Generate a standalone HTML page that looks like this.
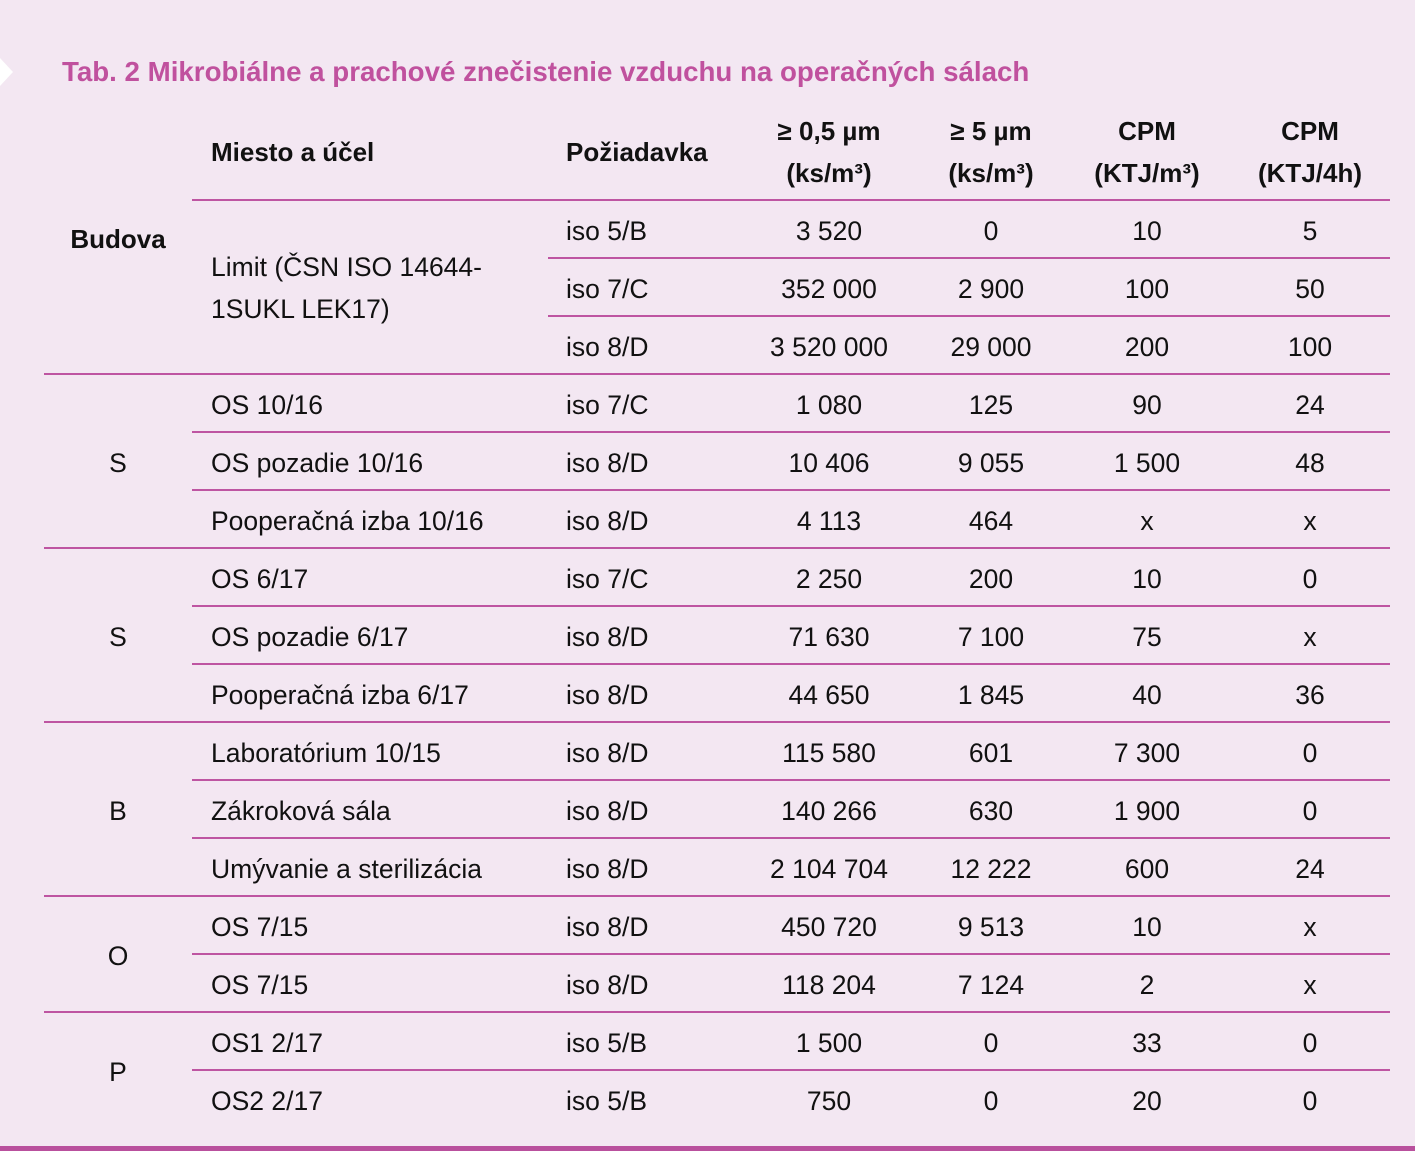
<!DOCTYPE html>
<html><head><meta charset="utf-8">
<style>
body{margin:0;width:1415px;height:1151px;background:#f3e7f2;position:relative;overflow:hidden;font-family:"Liberation Sans",sans-serif;color:#111;}
.t{position:absolute;font-size:26.5px;line-height:30px;white-space:nowrap;}
.c{transform:translateX(-50%);text-align:center;}
.b{font-weight:bold;font-size:26px;}
.l{position:absolute;height:2px;background:#be55a2;}
</style></head><body>
<div style="position:absolute;left:0;top:58px;width:0;height:0;border-top:14px solid transparent;border-bottom:14px solid transparent;border-left:13px solid #fff;"></div>
<div class="t b" style="left:62px;top:57px;font-size:27.7px;color:#c0519e;">Tab. 2 Mikrobiálne a prachové znečistenie vzduchu na operačných sálach</div>

<div class="t b" style="left:211px;top:137px;">Miesto a účel</div>
<div class="t b" style="left:566px;top:137px;">Požiadavka</div>
<div class="t b c" style="left:829px;top:116px;">≥ 0,5 µm</div>
<div class="t b c" style="left:829px;top:158px;">(ks/m³)</div>
<div class="t b c" style="left:991px;top:116px;">≥ 5 µm</div>
<div class="t b c" style="left:991px;top:158px;">(ks/m³)</div>
<div class="t b c" style="left:1147px;top:116px;">CPM</div>
<div class="t b c" style="left:1147px;top:158px;">(KTJ/m³)</div>
<div class="t b c" style="left:1310px;top:116px;">CPM</div>
<div class="t b c" style="left:1310px;top:158px;">(KTJ/4h)</div>

<div class="l" style="left:192px;top:199px;width:1198px;"></div>
<div class="l" style="left:548px;top:257px;width:842px;"></div>
<div class="l" style="left:548px;top:315px;width:842px;"></div>
<div class="l" style="left:44px;top:373px;width:1346px;"></div>
<div class="l" style="left:192px;top:431px;width:1198px;"></div>
<div class="l" style="left:192px;top:489px;width:1198px;"></div>
<div class="l" style="left:44px;top:547px;width:1346px;"></div>
<div class="l" style="left:192px;top:605px;width:1198px;"></div>
<div class="l" style="left:192px;top:663px;width:1198px;"></div>
<div class="l" style="left:44px;top:721px;width:1346px;"></div>
<div class="l" style="left:192px;top:779px;width:1198px;"></div>
<div class="l" style="left:192px;top:837px;width:1198px;"></div>
<div class="l" style="left:44px;top:895px;width:1346px;"></div>
<div class="l" style="left:192px;top:953px;width:1198px;"></div>
<div class="l" style="left:44px;top:1011px;width:1346px;"></div>
<div class="l" style="left:192px;top:1069px;width:1198px;"></div>
<div style="position:absolute;left:0;top:1146px;width:1415px;height:5px;background:#b9509d;"></div>

<div class="t b c" style="left:118px;top:224px;">Budova</div>
<div class="t" style="left:211px;top:252px;">Limit (ČSN ISO 14644-</div>
<div class="t" style="left:211px;top:294px;">1SUKL LEK17)</div>
<div class="t c" style="left:118px;top:448px;">S</div>
<div class="t c" style="left:118px;top:622px;">S</div>
<div class="t c" style="left:118px;top:796px;">B</div>
<div class="t c" style="left:118px;top:941px;">O</div>
<div class="t c" style="left:118px;top:1057px;">P</div>

<div id="rows"></div>
<script>
var R=[
[230,"","iso 5/B","3 520","0","10","5"],
[288,"","iso 7/C","352 000","2 900","100","50"],
[346,"","iso 8/D","3 520 000","29 000","200","100"],
[404,"OS 10/16","iso 7/C","1 080","125","90","24"],
[462,"OS pozadie 10/16","iso 8/D","10 406","9 055","1 500","48"],
[520,"Pooperačná izba 10/16","iso 8/D","4 113","464","x","x"],
[578,"OS 6/17","iso 7/C","2 250","200","10","0"],
[636,"OS pozadie 6/17","iso 8/D","71 630","7 100","75","x"],
[694,"Pooperačná izba 6/17","iso 8/D","44 650","1 845","40","36"],
[752,"Laboratórium 10/15","iso 8/D","115 580","601","7 300","0"],
[810,"Zákroková sála","iso 8/D","140 266","630","1 900","0"],
[868,"Umývanie a sterilizácia","iso 8/D","2 104 704","12 222","600","24"],
[926,"OS 7/15","iso 8/D","450 720","9 513","10","x"],
[984,"OS 7/15","iso 8/D","118 204","7 124","2","x"],
[1042,"OS1 2/17","iso 5/B","1 500","0","33","0"],
[1100,"OS2 2/17","iso 5/B","750","0","20","0"]];
var h="";var cx=[829,991,1147,1310];
R.forEach(function(r){var y=r[0]-14;
if(r[1])h+='<div class="t" style="left:211px;top:'+y+'px;">'+r[1]+'</div>';
h+='<div class="t" style="left:566px;top:'+y+'px;">'+r[2]+'</div>';
for(var i=0;i<4;i++)h+='<div class="t c" style="left:'+cx[i]+'px;top:'+y+'px;">'+r[3+i]+'</div>';});
document.getElementById("rows").innerHTML=h;
</script>
</body></html>
